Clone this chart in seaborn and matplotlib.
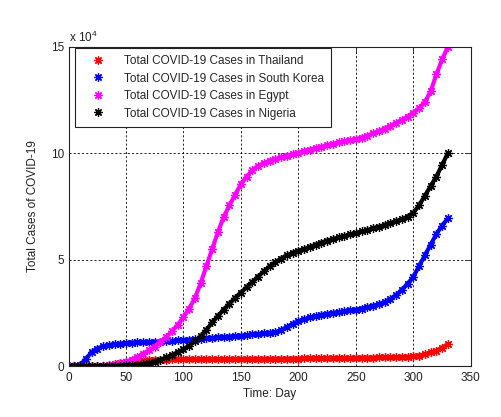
import numpy as np
import pandas as pd
import matplotlib
import matplotlib.pyplot as plt
import seaborn as sns
from matplotlib.lines import Line2D

matplotlib.use('Agg')

# days since start, sampled every 5 days
days = list(range(0, 335, 5))

# total cases in thousands
thailand = [0.03, 0.04, 0.04, 0.04, 0.05, 0.08, 0.1, 0.3, 0.9, 1.6,
            2.1, 2.4, 2.6, 2.8, 2.9, 3.0, 3.0, 3.05, 3.1, 3.1,
            3.1, 3.15, 3.15, 3.2, 3.2, 3.2, 3.2, 3.25, 3.25, 3.3,
            3.3, 3.3, 3.35, 3.35, 3.4, 3.4, 3.4, 3.45, 3.45, 3.5,
            3.5, 3.55, 3.6, 3.6, 3.65, 3.7, 3.7, 3.75, 3.8, 3.8,
            3.85, 3.9, 3.9, 3.95, 4.0, 4.0, 4.1, 4.2, 4.3, 4.4,
            4.5, 4.9, 5.6, 6.4, 7.2, 8.6, 10.2]
south_korea = [0.03, 0.1, 0.6, 3.2, 6.5, 8.2, 9.2, 9.8, 10.2, 10.5,
               10.8, 11.0, 11.1, 11.2, 11.3, 11.4, 11.5, 11.6, 11.8, 12.0,
               12.2, 12.4, 12.6, 12.8, 13.0, 13.2, 13.4, 13.6, 13.8, 14.0,
               14.2, 14.5, 14.8, 15.1, 15.4, 15.6, 15.9, 16.8, 18.3, 19.8,
               21.0, 22.0, 22.8, 23.4, 24.0, 24.5, 24.9, 25.3, 25.7, 26.1,
               26.5, 27.0, 27.6, 28.3, 29.1, 30.1, 31.5, 33.3, 35.8, 38.6,
               42.0, 47.0, 52.0, 57.0, 62.0, 66.0, 69.3]
egypt = [0.0, 0.0, 0.0, 0.0, 0.0, 0.1, 0.2, 0.4, 0.7, 1.2,
         2.0, 3.0, 4.3, 5.8, 7.3, 9.1, 11.2, 13.6, 16.3, 19.3,
         23.0, 27.0, 32.0, 39.0, 47.0, 55.0, 63.0, 70.0, 75.5, 80.5,
         85.5, 89.0, 92.0, 94.0, 95.3, 96.5, 97.3, 98.0, 98.8, 99.5,
         100.2, 101.0, 101.7, 102.3, 103.0, 103.7, 104.4, 105.0, 105.5, 106.0,
         106.5, 107.3, 108.2, 109.3, 110.4, 111.5, 112.8, 114.2, 115.6, 117.2,
         119.0, 121.0, 124.0, 129.0, 137.0, 144.0, 150.0]
nigeria = [0.0, 0.0, 0.0, 0.0, 0.0, 0.0, 0.0, 0.05, 0.1, 0.2,
           0.25, 0.35, 0.5, 0.8, 1.3, 2.0, 2.9, 4.0, 5.2, 6.4,
           7.8, 9.6, 11.6, 14.0, 17.0, 20.5, 23.5, 26.5, 29.3, 32.0,
           34.5, 37.0, 39.5, 42.0, 44.5, 46.8, 48.8, 50.5, 52.0, 53.2,
           54.2, 55.0, 56.0, 57.0, 58.0, 58.9, 59.7, 60.4, 61.1, 61.8,
           62.5, 63.2, 63.9, 64.6, 65.4, 66.3, 67.2, 68.1, 69.0, 70.2,
           72.0, 75.5, 80.0, 84.5, 89.0, 94.5, 100.0]

countries = ['Thailand', 'South Korea', 'Egypt', 'Nigeria']
colours = {'Thailand': '#ff0000', 'South Korea': '#0000ff',
           'Egypt': '#ff00ff', 'Nigeria': '#000000'}

sns.set_style('white')
plt.rcParams['font.family'] = ['Liberation Sans', 'DejaVu Sans']
plt.rcParams['mathtext.fontset'] = 'custom'
plt.rcParams['mathtext.rm'] = 'Liberation Sans'

fig = plt.figure(figsize=(5.02, 4.17), dpi=100)
ax = fig.add_axes([0.1365, 0.1223, 0.8015, 0.7657])

asterisk = (8, 2, 0)
for name, vals in zip(countries, [thailand, south_korea, egypt, nigeria]):
    # plot in units of 1e4
    sns.lineplot(x=days, y=np.array(vals) / 10.0, ax=ax, color=colours[name],
                 marker=asterisk, markersize=6.5, markeredgewidth=0.9,
                 markeredgecolor=colours[name], linewidth=3.0)

ax.set_xlim(0, 350)
ax.set_ylim(0, 15)
ax.set_xticks(range(0, 351, 50))
ax.set_yticks([0, 5, 10, 15])
ax.tick_params(direction='in', length=4, width=0.6, top=True, right=True,
               labelsize=8.5, colors='#222222', pad=3)
ax.tick_params(axis='x', pad=4)
ax.grid(True, linestyle=(0, (2.5, 2.5)), color='k', linewidth=0.6)
for s in ax.spines.values():
    s.set_color('#222222')
    s.set_linewidth(0.8)

ax.set_xlabel('Time: Day', fontsize=8.5, color='#222222', labelpad=3)
ax.set_ylabel('Total Cases of COVID-19', fontsize=8.5, color='#222222', labelpad=9)
ax.text(0.0, 1.006, r'x 10$^4$', transform=ax.transAxes, ha='left', va='bottom',
        fontsize=8.5, color='#222222')

handles = [Line2D([], [], linestyle='none', marker=asterisk, markersize=6,
                  markeredgewidth=0.9, color=colours[c], markeredgecolor=colours[c])
           for c in countries]
labels = [f'Total COVID-19 Cases in {c}' for c in countries]
leg = ax.legend(handles, labels, loc='upper left', bbox_to_anchor=(0.017, 0.997),
                fontsize=8.5, frameon=True, fancybox=False, framealpha=1,
                edgecolor='#222222', borderpad=0.62, labelspacing=0.47,
                handletextpad=0.9, handlelength=2.6, borderaxespad=0)
leg.get_frame().set_linewidth(0.8)

fig.savefig('out.png', dpi=100, facecolor='white')
